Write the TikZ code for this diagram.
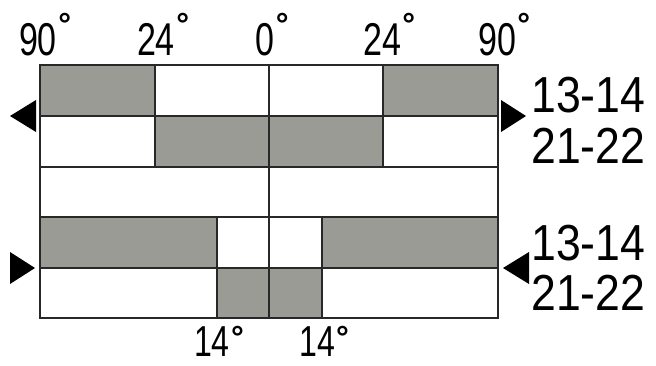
\documentclass[tikz,border=0pt]{standalone}
\usepackage{fontspec}
\setmainfont{Liberation Sans}
\newfontfamily\sidefont[FakeStretch=0.88]{Liberation Sans}
\newfontfamily\anglefont[FakeStretch=0.74]{Liberation Sans}
\newcommand\degtop{\rlap{\raisebox{15pt}{\fontsize{24}{24}\selectfont\rmfamily\bfseries\kern1pt °}}}
\newcommand\degbot{\rlap{\raisebox{6pt}{\fontsize{24}{24}\selectfont\rmfamily\bfseries\kern1pt °}}}
\definecolor{cellgray}{RGB}{155,155,150}
\definecolor{linedark}{RGB}{40,40,40}
\begin{document}
\begin{tikzpicture}[x=0.75pt,y=-0.75pt,
  cell/.style={fill=cellgray},
  gridline/.style={draw=linedark,line width=1.7pt,line cap=rect},
  marker/.style={fill=black},
  sidelabel/.style={anchor=base west,inner sep=0pt,font=\sidefont\fontsize{38}{38}\selectfont},
  anglelabel/.style={anchor=base,inner sep=0pt,font=\anglefont\fontsize{34.5}{34.5}\selectfont},
  bottomlabel/.style={anchor=base,inner sep=0pt,font=\anglefont\fontsize{32.5}{32.5}\selectfont}]
\useasboundingbox (0,0) rectangle (656,365);
% shaded cells
\fill[cell] (40,65) rectangle (155,116);
\fill[cell] (383,65) rectangle (498,116);
\fill[cell] (155,116) rectangle (383,167);
\fill[cell] (40,217) rectangle (217,268);
\fill[cell] (322,217) rectangle (498,268);
\fill[cell] (217,268) rectangle (322,318);
% grid
\draw[gridline] (40,65) rectangle (498,318);
\draw[gridline] (40,116) -- (498,116);
\draw[gridline] (40,167) -- (498,167);
\draw[gridline] (40,217) -- (498,217);
\draw[gridline] (40,268) -- (498,268);
\draw[gridline] (269,65) -- (269,318);
\draw[gridline] (155,65) -- (155,167);
\draw[gridline] (383,65) -- (383,167);
\draw[gridline] (217,217) -- (217,318);
\draw[gridline] (322,217) -- (322,318);
% markers
\fill[marker] (10,116) -- (36,100) -- (36,132) -- cycle;
\fill[marker] (526,116) -- (501,100) -- (501,132) -- cycle;
\fill[marker] (35,268) -- (10,252) -- (10,284) -- cycle;
\fill[marker] (503,268) -- (529,252) -- (529,284) -- cycle;
% angle labels
\node[anglelabel] (a90l) at (38,55) {90\degtop};
\node[anglelabel] (a24l) at (156,55) {24\degtop};
\node[anglelabel] (a0) at (265,55) {0\degtop};
\node[anglelabel] (a24r) at (382,55) {24\degtop};
\node[anglelabel] (a90r) at (497,55) {90\degtop};
\node[bottomlabel] (b14l) at (212,356) {14\degbot};
\node[bottomlabel] (b14r) at (317,356) {14\degbot};
% contact labels
\node[sidelabel] (t1314) at (531,112) {13-14};
\node[sidelabel] (t2122) at (531,163) {21-22};
\node[sidelabel] (b1314) at (531,260) {13-14};
\node[sidelabel] (b2122) at (531,310) {21-22};
\end{tikzpicture}
\end{document}
